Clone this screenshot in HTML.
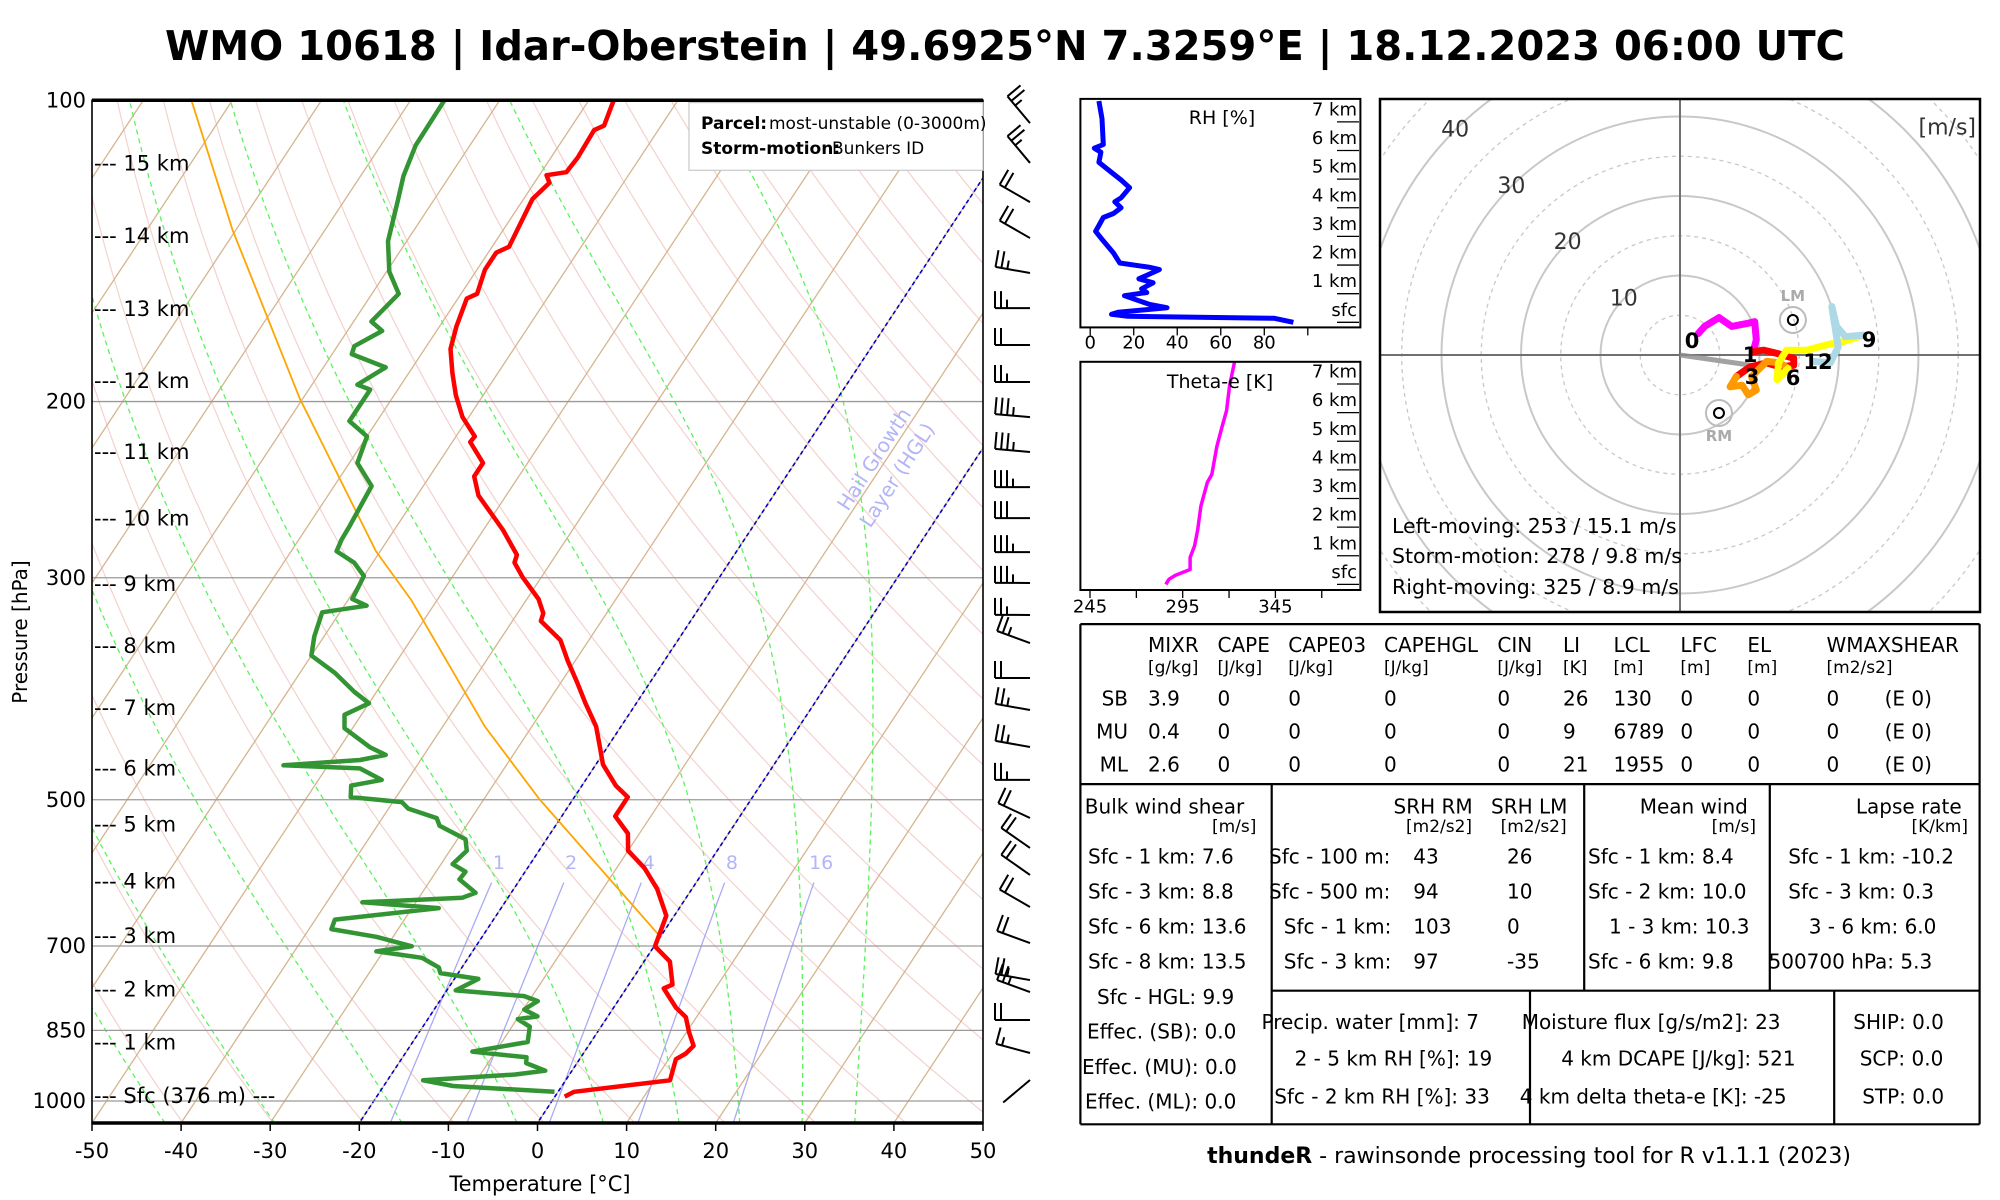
<!DOCTYPE html>
<html><head><meta charset="utf-8"><style>
html,body{margin:0;padding:0;background:#fff;}
svg{display:block;font-family:"DejaVu Sans","Liberation Sans",sans-serif;}
</style></head><body>
<svg id="s" width="2000" height="1200" viewBox="0 0 2000 1200" xmlns="http://www.w3.org/2000/svg">
<defs>
<clipPath id="skc"><rect x="92" y="100.3" width="891" height="1022.7"/></clipPath>
<clipPath id="hoc"><rect x="1380" y="99" width="600" height="513"/></clipPath>
</defs>
<text x="1005" y="60" text-anchor="middle" font-size="41" font-weight="bold" textLength="1680" lengthAdjust="spacingAndGlyphs">WMO 10618 | Idar-Oberstein | 49.6925°N 7.3259°E | 18.12.2023 06:00 UTC</text>
<g id="skew"></g>
<g id="barbs"></g>
<g id="rh"></g>
<g id="te"></g>
<g id="hodo"></g>
<g id="tbl"></g>
<text x="1529" y="1163" text-anchor="middle" font-size="22"><tspan font-weight="bold">thundeR</tspan> - rawinsonde processing tool for R v1.1.1 (2023)</text>
</svg>
<script>
// ---- Skew-T data ----
const tempP = [100,106,107.1,114.1,118,118.8,120.9,125.5,140.1,142,147.7,156.1,157.8,168.3,177.2,187.3,197,207.3,216.7,219.5,230.4,237.6,248.3,268.8,284.6,289.7,299.6,315,325.6,331.4,346.3,363.5,381.6,400.5,422.3,441.2,461.1,484,497,519.3,540.3,562.2,584.9,613.9,652.9,700.5,725.6,765,771.8,806.6,824.4,854,880.7,896.4,908.2,953.4,979,990];
const tempT = [-67.2,-66.4,-67.2,-67,-67.2,-69.2,-68.3,-69,-68.1,-69.1,-69.1,-68.2,-69,-68.1,-67.1,-65.1,-63.1,-60.7,-57.9,-58,-55,-55,-53.1,-47.8,-44.4,-44.1,-42.1,-38.7,-37.1,-36.8,-33.2,-30.8,-28.2,-25.7,-22.8,-21,-19.2,-16.2,-14,-14,-11.3,-10,-6.9,-3.9,-0.9,0.1,2.9,4.9,4.2,7,8.8,10.3,11.8,11.5,10.8,11.7,1.8,1.1];
const dewP = [100,110.9,119,126,138.3,148.3,156.1,166.4,170,176.1,179.3,184.9,192.4,194.6,209.2,216.7,230.4,242.9,266.4,274.8,282.2,289.7,298.8,315,319.9,324.8,343.3,358.8,373.3,390,400.5,411.2,424.1,443.2,451,456.3,461.9,465.2,477.7,484,497,502.7,510.3,521.6,530.9,547.5,562.2,579.8,590,600.5,619.4,626.4,633.1,641.6,658.8,673.3,685.3,700.5,708.6,719.3,735.4,745.1,755.1,775.3,785.5,794.6,810.2,823.1,828.3,842.8,873.1,892.5,904.3,916.5,932.7,940.8,953.4,966.1,979];
const dewT = [-86.2,-86.1,-85.2,-84,-82.1,-79.7,-77,-78,-76.1,-78.1,-77.8,-73,-74.9,-73.1,-73.1,-70,-69.1,-65.8,-65.3,-65.2,-64.9,-62.1,-60,-59.6,-57.5,-62,-61.1,-60,-56.1,-52.5,-50,-51.9,-50.9,-46.6,-44.3,-46.8,-55,-46.2,-42.9,-45.9,-45.1,-39,-37.8,-33.9,-33,-29.1,-28.1,-28.7,-26.7,-26.8,-24,-25.1,-36,-27,-37.8,-37.5,-31.9,-27.2,-30.8,-25.2,-22.6,-22,-17.3,-19,-10.9,-9,-9.9,-7.9,-9.9,-8,-7.1,-12.6,-6.1,-5.7,-3,-6.1,-16,-12.2,-0.4];
const parcelP = [685.3,499.1,422.3,315.8,282.2,198.4,134.7,100];
const parcelT = [0,-23.8,-35.3,-52.9,-60.5,-80.4,-100.4,-114.6];
const pressTicks = [100,200,300,500,700,850,1000];
const tempTicks = [-50,-40,-30,-20,-10,0,10,20,30,40,50];
const heightLabels = ["15 km","14 km","13 km","12 km","11 km","10 km","9 km","8 km","7 km","6 km","5 km","4 km","3 km","2 km","1 km"];
const heightP = [115.6,136.7,161.7,190.7,224.5,261.8,304.3,350.9,405,465.5,529.4,603.5,684,773.5,874.1];
const moistStart = [-41.8,-29.5,-15.2,-2.3,7.4,15.9,22.7,29.7,35.6];
const mixRatios = [1,2,4,8,16];
const hglIsotherms = [-20,0];
// ---- Wind barbs ----
const windP = [105.4,115.5,126.4,137.3,148.8,161.3,175.6,191.2,207.3,224.6,243.5,261.5,282.8,303.6,326.8,348.6,377.8,406.7,442.8,477.7,521.4,558.6,594.4,639.9,695.2,757.1,778.3,830,895.4,952.8];
const windDir = [320,320,300,300,280,270,270,270,275,275,270,270,270,270,270,290,270,280,280,270,295,305,305,300,290,280,290,270,285,230];
const windSpd = [25,25,20,20,25,25,20,25,35,35,35,30,35,35,25,25,20,25,25,25,20,20,20,20,20,25,25,20,15,0];
// ---- RH / theta-e ----
const rhH = [7.73,7.11,6.21,6.08,5.94,5.59,5.32,4.97,4.7,4.35,4.21,4,3.8,3.66,3.38,3.18,2.9,2.42,2.07,1.92,1.84,1.52,1.38,1.17,1.04,0.93,0.62,0.51,0.35,0.28,0.21,0.14,0];
const rhVal = [4,5.4,6,1.9,4.9,4,8.4,14.2,18.1,14.2,11.3,14.2,10.7,6,4,2.5,5.4,10.7,13.6,27.4,31.8,22.4,28.9,23.6,26,15.7,27.4,35.3,12.8,9.8,17.2,84.6,93.4];
const rhTicks = [0,20,40,60,80,100];
const teH = [7.78,6.95,6.06,5.5,4.81,3.84,3.57,2.74,1.91,1.35,0.94,0.52,0.32,0.18,0];
const teVal = [323,320.3,318.6,316.2,313.4,310.7,308.3,304.8,303.1,301.4,299,299,291.1,287.6,285.9];
const teTicks = [245,270,295,320,345,370];
const kmLabels = ["sfc","1 km","2 km","3 km","4 km","5 km","6 km","7 km"];
// ---- Hodograph (u,v m/s) ----
const hodoU0 = [2.3,3.1,4.9,6.5,8.6,9.4,9.6,9.2];
const hodoV0 = [2.7,3.6,4.7,3.6,4,4.2,1.9,0.4];
const hodoU1 = [9.2,10.5,12.2,14.3,14.3,12.6,10.9,8.8,7.1];
const hodoV1 = [0.4,0.6,0.2,-0.4,-1.3,-1.5,-1,-1.5,-2.7];
const hodoU3 = [7.1,6.3,7.8,8.6,9.6,9,10.9,12.6,13.6];
const hodoV3 = [-2.7,-4,-3.8,-5,-4.4,-2.7,-0.8,-1,-1.7];
const hodoU6 = [13.6,12.2,12.4,13.4,15.9,18.5,20.5,23.1];
const hodoV6 = [-1.7,-3.1,-1,0.6,0.6,1.3,1.7,2.5];
const hodoU9 = [23.1,20.8,19.7,19.1,19.9,18.9,16.8];
const hodoV9 = [2.5,2.3,3.6,6.1,1,-1,-0.8];
const stormUV = [9.7,-1.4];
const lmUV = [14.2,4.4];
const rmUV = [4.9,-7.3];

const NS="http://www.w3.org/2000/svg";
function el(tag,parent,attrs){const e=document.createElementNS(NS,tag);for(const k in attrs)e.setAttribute(k,attrs[k]);parent.appendChild(e);return e;}
function txt(parent,s,x,y,size,anchor,extra){const e=el('text',parent,Object.assign({x:x,y:y,'font-size':size,'text-anchor':anchor||'start','dominant-baseline':'central'},extra||{}));e.textContent=s;return e;}
const yP=p=>100.3+434.6*Math.log(p/100);
const xT=(T,p)=>92+(T+50)*8.91+0.66*(1123-yP(p));
const pathOf=(Ts,Ps)=>Ts.map((t,i)=>(i?'L':'M')+xT(t,Ps[i]).toFixed(1)+' '+yP(Ps[i]).toFixed(1)).join('');

// ===== SKEW-T =====
const sk=document.getElementById('skew');
const bg=el('g',sk,{'clip-path':'url(#skc)'});


for(let th=200;th<=500;th+=10){let T=[],P=[];for(let p=1060;p>=95;p-=10){P.push(p);T.push(th*Math.pow(p/1000,0.2857)-273.15);}
 const e=el('path',bg,{d:pathOf(T,P),fill:'none',stroke:'#f2d2cd','stroke-width':1.2});
 
 }
for(let t=-160;t<=50;t+=10){const e=el('path',bg,{d:pathOf([t,t],[1060,95]),fill:'none',stroke:'#d6b48f','stroke-width':1.3});
 
 }
function gM(T,p){const tc=T-273.15;const es=6.112*Math.exp(17.67*tc/(tc+243.5));const rs=0.622*es/Math.max(p-es,1);return (287*T+2.5e6*rs)/(1004+2.5e6*2.5e6*rs*0.622/(287*T*T))/p;}
moistStart.forEach(t0=>{let T=t0+273.15,p=1052,Ts=[],Ps=[];while(p>=95){Ts.push(T-273.15);Ps.push(p);const dp=-4;const k1=gM(T,p);const k2=gM(T+k1*dp,p+dp);T+=0.5*(k1+k2)*dp;p+=dp;}
 const e=el('path',bg,{d:pathOf(Ts,Ps),fill:'none',stroke:'#5cf25c','stroke-width':1.3,'stroke-dasharray':'5,4'});
 
 });
mixRatios.forEach(w=>{let Ts=[],Ps=[];for(let p=1055;p>=598;p-=10){const e=w*p/(622+w);const l=Math.log(e/6.112);Ts.push(243.5*l/(17.67-l));Ps.push(p);}
 const e=el('path',bg,{d:pathOf(Ts,Ps),fill:'none',stroke:'#aaaaf5','stroke-width':1.3});
 
 
 const lb=txt(sk,String(w),xT(Ts[Ts.length-1],598)+4,863,19,'middle',{fill:'#b4b4f8'});
 
 });
hglIsotherms.forEach(t=>{const e=el('path',bg,{d:pathOf([t,t],[1060,95]),fill:'none',stroke:'#0000c8','stroke-width':1.6,'stroke-dasharray':'4,3'});
 
 });
pressTicks.forEach(p=>{if(p===100)return;const e=el('line',sk,{x1:92,x2:983,y1:yP(p),y2:yP(p),stroke:'#9a9a9a','stroke-width':1.3});
 
 });
const hg1=txt(sk,'Hail Growth',874,459,20,'middle',{fill:'#b4b4f8',transform:'rotate(-57 874 459)'});


const hg2=txt(sk,'Layer (HGL)',897,475,20,'middle',{fill:'#b4b4f8',transform:'rotate(-57 897 475)'});


const fg=el('g',sk,{'clip-path':'url(#skc)'});
const parc=el('path',fg,{d:pathOf(parcelT,parcelP),fill:'none',stroke:'#ffa500','stroke-width':1.8});


const dw=el('path',fg,{d:pathOf(dewT,dewP),fill:'none',stroke:'#339433','stroke-width':4.5,'stroke-linejoin':'round'});


const tp=el('path',fg,{d:pathOf(tempT,tempP),fill:'none',stroke:'#ff0000','stroke-width':4.5,'stroke-linejoin':'round'});


const fr=el('rect',sk,{x:92,y:100.3,width:891,height:1022.7,fill:'none',stroke:'#000','stroke-width':1.6});


[100.3,1123].forEach(y=>{const e=el('line',sk,{x1:92,x2:983,y1:y,y2:y,stroke:'#000','stroke-width':3.5});
 
 });
pressTicks.forEach(p=>{const e=txt(sk,String(p),86,yP(p),21,'end');
 
 });
tempTicks.forEach(t=>{const x=92+(t+50)*8.91;const tk=el('line',sk,{x1:x,x2:x,y1:1123,y2:1131,stroke:'#000','stroke-width':1.5});
 
 
 const e=txt(sk,String(t),x,1151,21,'middle');
 
 });
const xl=txt(sk,'Temperature [°C]',540,1184,21,'middle');


const yl=txt(sk,'Pressure [hPa]',20,632,20,'middle',{transform:'rotate(-90 20 632)'});


heightLabels.forEach((s,i)=>{const e=txt(sk,'--- '+s,94,yP(heightP[i]),21,'start');
 
 });
const sfl=txt(sk,'--- Sfc (376 m) ---',94,1096,21,'start');


const lg=el('rect',sk,{x:689,y:102.6,width:294,height:67.7,fill:'#fff',stroke:'#c8c8c8','stroke-width':1.2});


const l1=txt(sk,'Parcel:',701,124,17,'start',{'font-weight':'bold'});


const l2=txt(sk,'most-unstable (0-3000m)',769,124,17,'start');


const l3=txt(sk,'Storm-motion:',701,149,17,'start',{'font-weight':'bold'});


const l4=txt(sk,'Bunkers ID',832,149,17,'start');



// ===== BARBS =====
const bb=document.getElementById('barbs');
windP.forEach((p,i)=>{const bx=1030,by=yP(p);const d=windDir[i]*Math.PI/180;const sx=Math.sin(d),sy=-Math.cos(d);
 const tx=bx+35*sx,ty=by+35*sy;let s='M'+bx+' '+by+'L'+tx.toFixed(1)+' '+ty.toFixed(1);
 const px=-sy,py=sx;let sp=windSpd[i],k=0;
 while(sp>=10){const ox=tx-sx*6*k,oy=ty-sy*6*k;s+='M'+ox.toFixed(1)+' '+oy.toFixed(1)+'l'+(17*px).toFixed(1)+' '+(17*py).toFixed(1);sp-=10;k++;}
 if(sp>=5){if(k===0)k=1;const ox=tx-sx*6*k,oy=ty-sy*6*k;s+='M'+ox.toFixed(1)+' '+oy.toFixed(1)+'l'+(8.5*px).toFixed(1)+' '+(8.5*py).toFixed(1);}
 const e=el('path',bb,{d:s,fill:'none',stroke:'#000','stroke-width':2});
 
 });

// ===== RH & theta-e panels =====
function panel(gid,top,bottom,sfcY,xs,ticks,labelEvery,vals,hs,col,lw,title,titleX,titleY,tickLabelY){
 const g=document.getElementById(gid);
 const ln=el('path',g,{d:vals.map((v,i)=>(i?'L':'M')+xs(v).toFixed(1)+' '+(sfcY-hs[i]*28.63).toFixed(1)).join(''),fill:'none',stroke:col,'stroke-width':lw,'stroke-linejoin':'round'});
 
 
 const r=el('rect',g,{x:1080.4,y:top,width:280,height:bottom-top,fill:'none',stroke:'#000','stroke-width':2});
 
 
 ticks.forEach((t,i)=>{const x=xs(t);const tk=el('line',g,{x1:x,x2:x,y1:bottom,y2:bottom+8,stroke:'#000','stroke-width':1.3});
  
  
  if(i%labelEvery===0&&i<ticks.length-1){const e=txt(g,String(t),x,tickLabelY,18,'middle');
   
   }});
 kmLabels.forEach((s,i)=>{const y=sfcY-i*28.63;const l=el('line',g,{x1:1337,x2:1359,y1:y,y2:y,stroke:'#000','stroke-width':1.3});
  
  
  const e=txt(g,s,1357,y-12,18,'end');
  
  });
 const tt=txt(g,title,titleX,titleY,19,'middle');
 
 
}
panel('rh',98.9,327.4,322.3,v=>1090.2+v*2.176,rhTicks,1,rhVal,rhH,'#0000ff',5,'RH [%]',1222,118,343);
panel('te',361.8,590,584.4,v=>1090+(v-245)*1.854,teTicks,2,teVal,teH,'#ff00ff',3.5,'Theta-e [K]',1220,382,607);

// ===== HODOGRAPH =====
const ho=document.getElementById('hodo');
const hc=el('g',ho,{'clip-path':'url(#hoc)'});
const CX=1680,CY=355,SC=7.95;
for(let r=5;r<=60;r+=5){const e=el('circle',hc,{cx:CX,cy:CY,r:r*SC,fill:'none',stroke:'#c8c8c8','stroke-width':r%10?1.3:2,'stroke-dasharray':r%10?'4,4':'none'});
 
 }
const ax1=el('line',hc,{x1:1380,x2:1980,y1:CY,y2:CY,stroke:'#707070','stroke-width':2});


const ax2=el('line',hc,{x1:CX,x2:CX,y1:99,y2:612,stroke:'#707070','stroke-width':2});


[10,20,30,40].forEach(r=>{const e=txt(ho,String(r),CX-r*SC*0.707,CY-r*SC*0.707,22,'middle',{fill:'#333'});
 
 });
const sm=el('line',hc,{x1:CX,y1:CY,x2:CX+stormUV[0]*SC,y2:CY-stormUV[1]*SC,stroke:'#8c8c8c','stroke-width':5,opacity:0.8});


[[hodoU0,hodoV0,'#ff00ff'],[hodoU1,hodoV1,'#ff0000'],[hodoU3,hodoV3,'#ff9900'],[hodoU6,hodoV6,'#ffff00'],[hodoU9,hodoV9,'#add8e6']].forEach(s=>{
 const e=el('path',hc,{d:s[0].map((u,i)=>(i?'L':'M')+(CX+u*SC).toFixed(1)+' '+(CY-s[1][i]*SC).toFixed(1)).join(''),fill:'none',stroke:s[2],'stroke-width':7,'stroke-linecap':'round','stroke-linejoin':'round'});
 
 });
[['0',1692,341],['1',1750,355],['3',1752,377],['6',1793,378],['9',1869,340],['12',1818,362]].forEach(a=>{const e=txt(ho,a[0],a[1],a[2],21,'middle',{'font-weight':'bold'});
 
 });
[[lmUV,'LM',-24],[rmUV,'RM',23]].forEach(m=>{const x=CX+m[0][0]*SC,y=CY-m[0][1]*SC;
 const o=el('circle',ho,{cx:x,cy:y,r:13,fill:'none',stroke:'#bbb','stroke-width':2});
 
 
 const i=el('circle',ho,{cx:x,cy:y,r:5,fill:'none',stroke:'#000','stroke-width':2});
 
 
 const t=txt(ho,m[1],x,y+m[2],15,'middle',{fill:'#aaa','font-weight':'bold'});
 
 });
const hf=el('rect',ho,{x:1380,y:99,width:600,height:513,fill:'none',stroke:'#000','stroke-width':2.5});


const un=txt(ho,'[m/s]',1976,128,22,'end',{fill:'#333'});


[['Left-moving: 253 / 15.1 m/s',526],['Storm-motion: 278 / 9.8 m/s',556],['Right-moving: 325 / 8.9 m/s',587]].forEach(a=>{const e=txt(ho,a[0],1392,a[1],20.5,'start');
 
 });

// ===== TABLE =====
const tb=document.getElementById('tbl');
[[1080.4,624.1,1979.6,624.1],[1080.4,1124.3,1979.6,1124.3],[1080.4,624.1,1080.4,1124.3],[1979.6,624.1,1979.6,1124.3],[1080.4,784.1,1979.6,784.1],[1271.7,784.1,1271.7,1124.3],[1584.2,784.1,1584.2,990.7],[1769.8,784.1,1769.8,990.7],[1271.7,990.7,1979.6,990.7],[1530,990.7,1530,1124.3],[1834.2,990.7,1834.2,1124.3]].forEach(l=>{
 const e=el('line',tb,{x1:l[0],y1:l[1],x2:l[2],y2:l[3],stroke:'#000','stroke-width':2.2});
 
 });
const colX=[1148,1217.5,1288.3,1384,1497.4,1563,1613.5,1680.4,1747.4,1826.5];
const hdr=['MIXR','CAPE','CAPE03','CAPEHGL','CIN','LI','LCL','LFC','EL','WMAXSHEAR'];
const unitsRow=['[g/kg]','[J/kg]','[J/kg]','[J/kg]','[J/kg]','[K]','[m]','[m]','[m]','[m2/s2]'];
const rowNames=['SB','MU','ML'];
const rowY=[698.7,731.6,764.6];
const rowVals=[['3.9','0','0','0','0','26','130','0','0','0'],['0.4','0','0','0','0','9','6789','0','0','0'],['2.6','0','0','0','0','21','1955','0','0','0']];
hdr.forEach((h,i)=>{const a=txt(tb,h,colX[i],645,20,'start');
 
 
 const b=txt(tb,unitsRow[i],colX[i],668,17,'start');
 
 });
rowNames.forEach((r,j)=>{const a=txt(tb,r,1128,rowY[j],20,'end');
 
 
 rowVals[j].forEach((v,i)=>{const c=txt(tb,v,colX[i],rowY[j],20,'start');
  
  });
 const e=txt(tb,'(E 0)',1884.6,rowY[j],20,'start');
 
 });
const cells=[
 ['Bulk wind shear',1084.8,806.7,'start',20],['[m/s]',1256.4,827,'end',17],
 ['Sfc - 1 km: 7.6',1088,856.4,'start',20],['Sfc - 3 km: 8.8',1088,891.6,'start',20],['Sfc - 6 km: 13.6',1088,926.4,'start',20],['Sfc - 8 km: 13.5',1088,961.7,'start',20],
 ['Sfc - HGL: 9.9',1097,996.9,'start',20],['Effec. (SB): 0.0',1087,1031.7,'start',20],['Effec. (MU): 0.0',1082,1066.9,'start',20],['Effec. (ML): 0.0',1085,1101.3,'start',20],
 ['SRH RM',1393.5,806.7,'start',20],['SRH LM',1491,806.7,'start',20],['[m2/s2]',1406,827,'start',17],['[m2/s2]',1500.6,827,'start',17],
 ['Sfc - 100 m:',1269,856.4,'start',20],['43',1413.3,856.4,'start',20],['26',1507,856.4,'start',20],
 ['Sfc - 500 m:',1269,891.6,'start',20],['94',1413.3,891.6,'start',20],['10',1507,891.6,'start',20],
 ['Sfc - 1 km:',1283.8,926.4,'start',20],['103',1413.3,926.4,'start',20],['0',1507,926.4,'start',20],
 ['Sfc - 3 km:',1283.8,961.7,'start',20],['97',1413.3,961.7,'start',20],['-35',1507,961.7,'start',20],
 ['Mean wind',1639.7,806.7,'start',20],['[m/s]',1756,827,'end',17],
 ['Sfc - 1 km: 8.4',1588,856.4,'start',20],['Sfc - 2 km: 10.0',1588,891.6,'start',20],['1 - 3 km: 10.3',1609,926.4,'start',20],['Sfc - 6 km: 9.8',1588,961.7,'start',20],
 ['Lapse rate',1855.9,806.7,'start',20],['[K/km]',1968,827,'end',17],
 ['Sfc - 1 km: -10.2',1788.3,856.4,'start',20],['Sfc - 3 km: 0.3',1788.3,891.6,'start',20],['3 - 6 km: 6.0',1808.7,926.4,'start',20],['500700 hPa: 5.3',1768.5,961.7,'start',20],
 ['Precip. water [mm]: 7',1261.5,1022.1,'start',20],['2 - 5 km RH [%]: 19',1294.6,1058.5,'start',20],['Sfc - 2 km RH [%]: 33',1274.2,1096.4,'start',20],
 ['Moisture flux [g/s/m2]: 23',1521.7,1022.1,'start',20],['4 km DCAPE [J/kg]: 521',1561.2,1058.5,'start',20],['4 km delta theta-e [K]: -25',1519.8,1096.4,'start',20],
 ['SHIP: 0.0',1853.3,1022.1,'start',20],['SCP: 0.0',1859.7,1058.5,'start',20],['STP: 0.0',1862.2,1096.4,'start',20]];
cells.forEach(c=>{const e=txt(tb,c[0],c[1],c[2],c[4],c[3]);
 
 });
</script>
</body></html>
